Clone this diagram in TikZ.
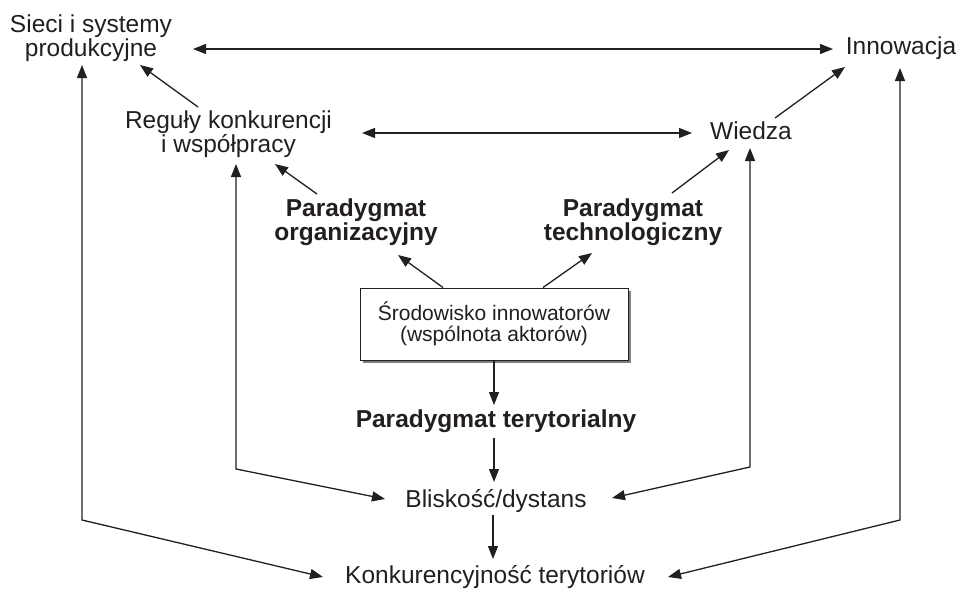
\documentclass[tikz,border=0pt]{standalone}
\usepackage{fontspec}
\setmainfont{Liberation Sans}
\usetikzlibrary{arrows.meta,shadows}
\definecolor{ink}{RGB}{35,31,32}
\begin{document}
\begin{tikzpicture}[x=1pt,y=-1pt,
  lbl/.style={inner sep=0pt, align=center, text=ink,
    font=\fontsize{24.5}{24}\selectfont},
  blbl/.style={lbl, font=\fontsize{24.5}{24}\selectfont\bfseries},
  conn/.style={draw=ink, line width=1.3pt,
    -{Triangle[length=13pt,width=10pt]}},
  dconn/.style={conn,
    {Triangle[length=13pt,width=10pt]}-{Triangle[length=13pt,width=10pt]}},
  milieu/.style={draw=ink, line width=1pt, fill=white,
    minimum width=268pt, minimum height=72pt, inner sep=0pt,
    align=center, text=ink, font=\fontsize{21}{21}\selectfont,
    drop shadow={shadow xshift=3pt, shadow yshift=-3pt,
      fill=black!50, opacity=1}}
]
\useasboundingbox (0,0) rectangle (959,589);

% labels
\node[lbl]  (sieci)  at (91,38)      {Sieci i systemy\\produkcyjne};
\node[lbl]  (innow)  at (901,48.6)   {Innowacja};
\node[lbl]  (regul)  at (228.5,133.7){Reguły konkurencji\\i współpracy};
\node[lbl]  (wiedza) at (751,131)    {Wiedza};
\node[blbl] (porg)   at (356,222.7)  {Paradygmat\\organizacyjny};
\node[blbl] (ptech)  at (633,222.7)  {Paradygmat\\technologiczny};
\node[milieu] (box)  at (494,324)    {Środowisko innowatorów\\(wspólnota aktorów)};
\node[blbl] (pter)   at (496,421.6)  {Paradygmat terytorialny};
\node[lbl]  (blisk)  at (496,500.6)  {Bliskość/dystans};
\node[lbl]  (konk)   at (495,576.6)  {Konkurencyjność terytoriów};

% elbows of the side connectors
\coordinate (elbowLo) at (82,520);
\coordinate (elbowLi) at (236,469);
\coordinate (elbowRi) at (750,467);
\coordinate (elbowRo) at (900,520);

% upper level
\draw[dconn] ([shift={(102,11)}]sieci.center) -- ([shift={(-68,0.4)}]innow.center);
\draw[conn]  ([shift={(-30.5,-26.7)}]regul.center) -- ([shift={(49,27)}]sieci.center);
\draw[dconn] ([shift={(133.5,-0.7)}]regul.center) -- ([shift={(-59,2)}]wiedza.center);
\draw[conn]  ([shift={(24,-13)}]wiedza.center) -- ([shift={(-56,18.4)}]innow.center);

% paradigms
\draw[conn] ([shift={(-39,-28.7)}]porg.center) -- ([shift={(46.5,30.3)}]regul.center);
\draw[conn] ([shift={(39,-29.7)}]ptech.center) -- ([shift={(-22,19)}]wiedza.center);
\draw[conn] ([xshift=-51pt]box.north) -- ([shift={(42,32.3)}]porg.center);
\draw[conn] ([xshift=49pt]box.north) -- ([shift={(-41,30.3)}]ptech.center);

% central column
\draw[conn] (box.south) -- ([shift={(-2,-16.6)}]pter.center);
\draw[conn] ([shift={(-2,16.4)}]pter.center) -- ([shift={(-2,-18.6)}]blisk.center);
\draw[conn] ([shift={(-3,14.4)}]blisk.center) -- ([shift={(-2,-17.6)}]konk.center);

% side loops
\draw[dconn] ([shift={(7.5,30.3)}]regul.center) -- (elbowLi) -- ([shift={(-111,-1.6)}]blisk.center);
\draw[dconn] ([shift={(-9,27)}]sieci.center) -- (elbowLo) -- ([shift={(-172,0.4)}]konk.center);
\draw[dconn] ([shift={(-1,17)}]wiedza.center) -- (elbowRi) -- ([shift={(116,-2.6)}]blisk.center);
\draw[dconn] ([shift={(-1,19.4)}]innow.center) -- (elbowRo) -- ([shift={(173,0.4)}]konk.center);
\end{tikzpicture}
\end{document}
